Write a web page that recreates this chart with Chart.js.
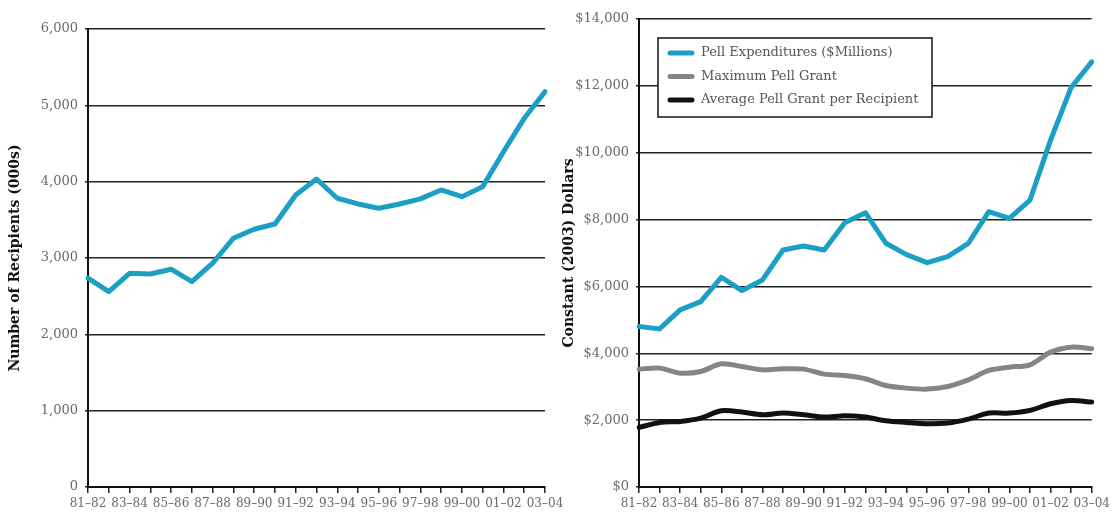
<!DOCTYPE html>
<html>
<head>
<meta charset="utf-8">
<script src="https://cdn.jsdelivr.net/npm/chart.js@4"></script>
<style>
  html, body { margin: 0; padding: 0; background: #fff; }
  body { width: 1114px; height: 513px; position: relative; overflow: hidden; }
  #left { position: absolute; left: 0; top: 0; }
  #right { position: absolute; left: 560px; top: 0; }
</style>
</head>
<body>
<canvas id="left" width="572" height="513"></canvas>
<canvas id="right" width="554" height="513"></canvas>
<script>
const categories = ["81–82","82–83","83–84","84–85","85–86","86–87","87–88","88–89","89–90","90–91","91–92","92–93","93–94","94–95","95–96","96–97","97–98","98–99","99–00","00–01","01–02","02–03","03–04"];
const recipients = [2736,2560,2800,2790,2853,2691,2932,3259,3377,3446,3826,4035,3783,3708,3652,3708,3774,3891,3804,3935,4393,4830,5178];
const pellExpenditures = [4800,4730,5298,5547,6274,5875,6194,7090,7210,7090,7906,8205,7290,6950,6711,6890,7290,8235,8038,8585,10377,11952,12717];
const maxPellGrant = [3526,3556,3406,3456,3684,3605,3505,3535,3526,3376,3336,3237,3038,2958,2928,3008,3207,3486,3585,3655,4034,4184,4134];
const avgPellGrant = [1782,1932,1962,2062,2281,2241,2161,2211,2161,2092,2132,2092,1982,1932,1892,1912,2032,2211,2211,2291,2490,2590,2540];
const leftTicks = [0,1000,2000,3000,4000,5000,6000];
const rightTicks = [0,2000,4000,6000,8000,10000,12000,14000];

const BLUE = "#1b9fc4", GRAY = "#858585", BLACK = "#111111";
const yTickFont = { family: "DejaVu Serif", size: 13 };
const xTickFont = { family: "DejaVu Serif", size: 12 };
const tickColor = "#6a6a6a";
const titleFont = { family: "DejaVu Serif", size: 14, weight: "bold" };

Chart.defaults.animation = false;
Chart.defaults.responsive = false;

function xScale(height) {
  return {
    type: "category",
    offset: false,
    grid: { drawOnChartArea: false, drawTicks: true, tickLength: 6, color: "#222", lineWidth: 1.5 },
    border: { display: true, color: "#111", width: 2 },
    ticks: {
      autoSkip: false, maxRotation: 0, minRotation: 0, padding: 4,
      color: tickColor, font: xTickFont,
      callback: function(v, i) { return i % 2 === 0 ? categories[i] : ""; }
    },
    afterFit: s => { s.height = height; }
  };
}
function yScale(max, width, fmt, title, titlePad) {
  return {
    type: "linear", min: 0, max: max,
    afterBuildTicks: s => { s.ticks = (max === 6000 ? leftTicks : rightTicks).map(v => ({ value: v })); },
    grid: { color: "#222", lineWidth: 1.5, drawTicks: true, tickLength: 3 },
    border: { display: true, color: "#111", width: 2 },
    ticks: { color: tickColor, font: yTickFont, padding: 7, callback: fmt },
    title: { display: true, text: title, color: "#111", font: titleFont, padding: { top: titlePad, bottom: 4 } },
    afterFit: s => { s.width = width; }
  };
}

new Chart(document.getElementById("left"), {
  type: "line",
  data: {
    labels: categories,
    datasets: [{ label: "Number of Recipients (000s)", data: recipients, borderColor: BLUE, borderWidth: 5, pointRadius: 0, tension: 0, fill: false, borderJoinStyle: "round", borderCapStyle: "round" }]
  },
  options: {
    layout: { padding: { left: 0, right: 27, top: 29, bottom: 0 } },
    plugins: { legend: { display: false }, tooltip: { enabled: false } },
    scales: {
      x: xScale(26),
      y: yScale(6000, 88, v => v.toLocaleString("en-US"), "Number of Recipients (000s)", 7)
    }
  }
});

const legendBox = {
  id: "legendBox",
  afterDatasetsDraw(chart) {
    const ctx = chart.ctx, a = chart.chartArea;
    const x0 = a.left + 19, y0 = a.top + 19, w = 274, h = 79;
    ctx.save();
    ctx.fillStyle = "#fff";
    ctx.fillRect(x0, y0, w, h);
    ctx.strokeStyle = "#111";
    ctx.lineWidth = 1.5;
    ctx.strokeRect(x0, y0, w, h);
    ctx.font = "13px 'DejaVu Serif'";
    ctx.textBaseline = "middle";
    chart.data.datasets.forEach((ds, i) => {
      const yy = y0 + 15 + i * 23.5;
      ctx.strokeStyle = ds.borderColor;
      ctx.lineWidth = 5;
      ctx.lineCap = "round";
      ctx.beginPath();
      ctx.moveTo(x0 + 12, yy);
      ctx.lineTo(x0 + 34, yy);
      ctx.stroke();
      ctx.fillStyle = "#555";
      ctx.fillText(ds.label, x0 + 43, yy);
    });
    ctx.restore();
  }
};

new Chart(document.getElementById("right"), {
  type: "line",
  data: {
    labels: categories,
    datasets: [
      { label: "Pell Expenditures ($Millions)", data: pellExpenditures, borderColor: BLUE, borderWidth: 5, pointRadius: 0, tension: 0, borderJoinStyle: "round", borderCapStyle: "round" },
      { label: "Maximum Pell Grant", data: maxPellGrant, borderColor: GRAY, borderWidth: 5, pointRadius: 0, tension: 0.3, borderJoinStyle: "round", borderCapStyle: "round" },
      { label: "Average Pell Grant per Recipient", data: avgPellGrant, borderColor: BLACK, borderWidth: 5, pointRadius: 0, tension: 0.3, borderJoinStyle: "round", borderCapStyle: "round" }
    ]
  },
  options: {
    layout: { padding: { left: 0, right: 18, top: 19, bottom: 0 } },
    plugins: { legend: { display: false }, tooltip: { enabled: false } },
    scales: {
      x: xScale(26),
      y: yScale(14000, 79, v => "$" + v.toLocaleString("en-US"), "Constant (2003) Dollars", 1)
    }
  },
  plugins: [legendBox]
});
</script>
</body>
</html>
